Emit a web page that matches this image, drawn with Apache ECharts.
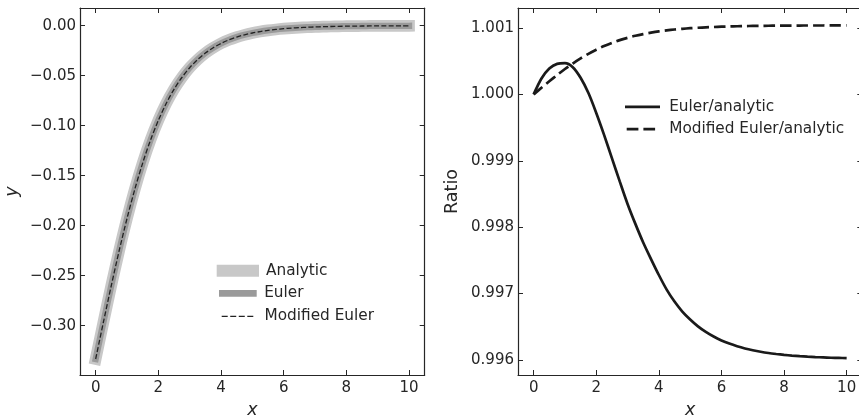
<!DOCTYPE html>
<html>
<head>
<meta charset="utf-8">
<script src="https://cdn.jsdelivr.net/npm/echarts@6/dist/echarts.min.js"></script>
<style>
html,body{margin:0;padding:0;background:#fff;}
#chart{width:859px;height:417px;}
</style>
</head>
<body>
<div id="chart"></div>
<script>
// ---- data ----
const xs = [0,0.25,0.5,0.75,1,1.25,1.5,1.75,2,2.25,2.5,2.75,3,3.25,3.5,3.75,4,4.25,4.5,4.75,5,
            5.25,5.5,5.75,6,6.25,6.5,6.75,7,7.25,7.5,7.75,8,8.25,8.5,8.75,9,9.25,9.5,9.75,10];
const analytic = [-0.3333,-0.2960,-0.2596,-0.2249,-0.1927,-0.1634,-0.1373,-0.1143,-0.0946,-0.0777,-0.0636,-0.0518,-0.0420,-0.0340,-0.0274,-0.0221,-0.0177,-0.0142,-0.0114,-0.0091,-0.0073,
            -0.00586,-0.00469,-0.00375,-0.00300,-0.00240,-0.00192,-0.00153,-0.00122,-0.00098,-0.00078,-0.00062,-0.00050,-0.00040,-0.00032,-0.00025,-0.00020,-0.00016,-0.00013,-0.00010,-0.00008];
const euler = [-0.3333,-0.2961,-0.2597,-0.2250,-0.1928,-0.1635,-0.1373,-0.1143,-0.0946,-0.0777,-0.0635,-0.0517,-0.0419,-0.0339,-0.0273,-0.0220,-0.0177,-0.0142,-0.0114,-0.0091,-0.0073,
            -0.00584,-0.00467,-0.00374,-0.00299,-0.00239,-0.00191,-0.00152,-0.00122,-0.00098,-0.00078,-0.00062,-0.00050,-0.00040,-0.00032,-0.00025,-0.00020,-0.00016,-0.00013,-0.00010,-0.00008];
const modified = [-0.3333,-0.2960,-0.2597,-0.2250,-0.1928,-0.1635,-0.1374,-0.1144,-0.0947,-0.0778,-0.0636,-0.0518,-0.0420,-0.0340,-0.0274,-0.0221,-0.0177,-0.0142,-0.0114,-0.0091,-0.0073,
            -0.00587,-0.00469,-0.00375,-0.00300,-0.00240,-0.00192,-0.00153,-0.00122,-0.00098,-0.00078,-0.00062,-0.00050,-0.00040,-0.00032,-0.00025,-0.00020,-0.00016,-0.00013,-0.00010,-0.00008];
const ratioEuler = [1.00000,1.00024,1.00039,1.00046,1.00047,1.00041,1.00025,1.00002,0.99972,0.99939,0.99904,0.99869,0.99835,0.99805,0.99777,0.99752,0.99728,0.99706,0.99688,0.99673,0.99661,
            0.996507,0.996423,0.996353,0.996295,0.996247,0.996207,0.996174,0.996147,0.996124,0.996105,0.996090,0.996077,0.996066,0.996057,0.996050,0.996044,0.996039,0.996034,0.996031,0.996028];
const ratioModified = [1.000000,1.000100,1.000198,1.000292,1.000382,1.000465,1.000542,1.000611,1.000673,1.000728,1.000775,1.000817,1.000852,1.000883,1.000908,1.000930,1.000949,1.000964,1.000977,1.000988,1.000997,
            1.001004,1.001010,1.001015,1.001020,1.001023,1.001026,1.001029,1.001031,1.001032,1.001034,1.001035,1.001036,1.001036,1.001037,1.001038,1.001038,1.001038,1.001039,1.001039,1.001039];
const xTicks = [0,2,4,6,8,10];
const yTicksLeft = [0,-0.05,-0.10,-0.15,-0.20,-0.25,-0.30];
const yTicksRight = [0.996,0.997,0.998,0.999,1.000,1.001];
const names = ['Analytic','Euler','Modified Euler','Euler/analytic','Modified Euler/analytic'];

// ---- chart ----
const FONT = 'DejaVu Sans';
const INK = '#262626';
const pairs = a => xs.map((x,i)=>[x,a[i]]);
const minus = s => s.replace('-', '\u2212');

function xAx(grid, top, showName){
  return {
    type:'value', gridIndex:grid, position: top?'top':'bottom',
    min:-0.5, max:10.5,
    axisLine:{show:true,onZero:false,lineStyle:{color:INK,width:1.2}},
    axisTick:{show:true,inside:true,length:5,customValues:xTicks,lineStyle:{color:INK,width:1}},
    axisLabel:{show:!top,customValues:xTicks,margin:6,color:INK,fontFamily:FONT,fontSize:15,
      formatter:v=>String(v)},
    splitLine:{show:false},
    name: showName?'x':'', nameLocation:'middle', nameGap:26,
    nameTextStyle:{fontFamily:FONT,fontSize:17.5,fontStyle:'italic',color:INK}
  };
}
function yAx(grid, right, min, max, ticks, dec, name, italic, gap){
  return {
    type:'value', gridIndex:grid, position: right?'right':'left',
    min:min, max:max,
    axisLine:{show:true,onZero:false,lineStyle:{color:INK,width:1.2}},
    axisTick:{show:true,inside:true,length:5,customValues:ticks,lineStyle:{color:INK,width:1}},
    axisLabel:{show:!right,customValues:ticks,margin:4,color:INK,fontFamily:FONT,fontSize:15,
      formatter:v=>minus(Number(v).toFixed(dec))},
    splitLine:{show:false},
    name: right?'':name, nameLocation:'middle', nameGap:gap, nameRotate:90,
    nameTextStyle:{fontFamily:FONT,fontSize:17.5,fontStyle:italic?'italic':'normal',color:INK}
  };
}

const dashLeft = 'path://M0,0h6v1.3h-6zM8.53,0h6v1.3h-6zM17.07,0h6v1.3h-6zM25.6,0h6v1.3h-6z';
const dashRight = 'path://M0,0h11.7v2.7h-11.7zM16.7,0h11.7v2.7h-11.7z';

function leg(name, icon, color, left, cy, w, h, pad){
  return {
    data:[{name:name, icon:icon, itemStyle:{color:color, borderWidth:0}}],
    left:left, top:cy-9, padding:0, itemWidth:w, itemHeight:h,
    selectedMode:false,
    itemStyle:{borderWidth:0},
    textStyle:{fontFamily:FONT,fontSize:15.3,color:INK,lineHeight:18,padding:[0,0,0,pad]}
  };
}

const option = {
  animation:false,
  backgroundColor:'#fff',
  grid:[
    {left:80, top:8, width:344.7, height:367, outerBoundsMode:'none', containLabel:false},
    {left:518, top:8, width:344.3, height:367, outerBoundsMode:'none', containLabel:false}
  ],
  xAxis:[xAx(0,false,true), xAx(0,true,false), xAx(1,false,true), xAx(1,true,false)],
  yAxis:[
    yAx(0,false,-0.3493,0.0177,yTicksLeft,2,'y',true,59),
    yAx(0,true,-0.3493,0.0177,yTicksLeft,2,'',false,0),
    yAx(1,false,0.995774,1.0013012,yTicksRight,3,'Ratio',false,57),
    yAx(1,true,0.995774,1.0013012,yTicksRight,3,'',false,0)
  ],
  legend:[
    leg(names[0],'rect','#c8c8c8',216.7,270.7,42.3,12,2),
    leg(names[1],'rect','#9a9a9a',219,293.3,37.7,6.7,2.5),
    leg(names[2],dashLeft,'#222',221.7,316.3,31.6,1.3,6.2),
    leg(names[3],'rect','#1a1a1a',625,106.9,35,2.7,4.2),
    leg(names[4],dashRight,'#1a1a1a',626.7,129.2,28.4,2.7,9.1)
  ],
  series:[
    {name:names[0],type:'line',xAxisIndex:0,yAxisIndex:0,data:pairs(analytic),showSymbol:false,symbol:'none',
     smooth:0.3,color:'#c8c8c8',lineStyle:{color:'#c8c8c8',width:11.7,cap:'square'},z:1},
    {name:names[1],type:'line',xAxisIndex:0,yAxisIndex:0,data:pairs(euler),showSymbol:false,symbol:'none',
     smooth:0.3,color:'#9a9a9a',lineStyle:{color:'#9a9a9a',width:6.3,cap:'square'},z:2},
    {name:names[2],type:'line',xAxisIndex:0,yAxisIndex:0,data:pairs(modified),showSymbol:false,symbol:'none',
     smooth:0.3,color:'#222',lineStyle:{color:'#222',width:1.3,type:[5,2.3]},z:3},
    {name:names[3],type:'line',xAxisIndex:2,yAxisIndex:2,data:pairs(ratioEuler),showSymbol:false,symbol:'none',
     smooth:0.3,color:'#1a1a1a',lineStyle:{color:'#1a1a1a',width:2.7},z:3},
    {name:names[4],type:'line',xAxisIndex:2,yAxisIndex:2,data:pairs(ratioModified),showSymbol:false,symbol:'none',
     smooth:0.3,color:'#1a1a1a',lineStyle:{color:'#1a1a1a',width:2.7,type:[11.5,5]},z:3}
  ]
};
const chart = echarts.init(document.getElementById('chart'), null, {renderer:'canvas'});
chart.setOption(option);
</script>
</body>
</html>
